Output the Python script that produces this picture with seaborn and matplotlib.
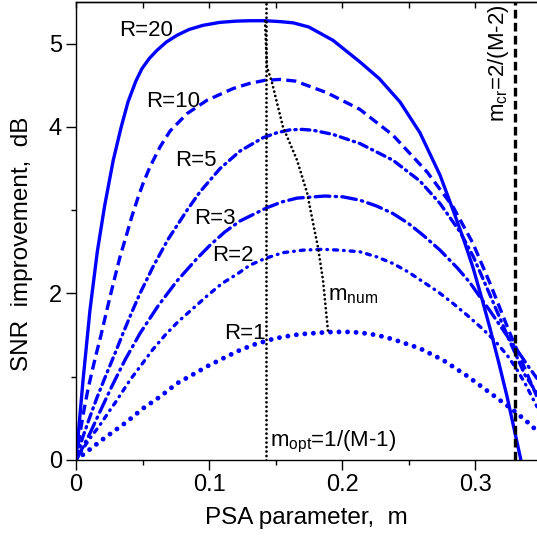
import matplotlib
matplotlib.use("Agg")
import matplotlib.pyplot as plt
import seaborn as sns

# ---------------- data ----------------
m_R20 = [0, .0053, .0105, .016, .0215, .028, .034, .0391, .045, .0496, .055, .0609, .068, .0759,
         .085, .0955, .108, .12, .131, .142, .153, .1632, .175, .1932, .2135, .228, .2436,
         .2586, .2737, .2835, .291, .2985, .3053, .3113, .318, .3241, .3345]
snr_R20 = [0, .96, 1.80, 2.50, 3.05, 3.60, 4.00, 4.30, 4.55, 4.70, 4.82, 4.92, 5.02, 5.10,
           5.17, 5.22, 5.255, 5.27, 5.275, 5.275, 5.265, 5.25, 5.20, 5.04, 4.78, 4.58, 4.30,
           3.93, 3.42, 3.00, 2.67, 2.31, 1.93, 1.58, 1.16, 0.76, 0.0]

m_R10 = [0, .003, .006, .009, .012, .015, .0188, .0226, .0256, .0293, .0331, .0383, .0421,
         .0466, .0504, .0556, .0632, .0707, .0835, .0985, .118, .13, .1421, .1534, .165,
         .1887, .2135, .2383, .2639, .2835, .2985, .3113, .3263, .3414, .3466]
snr_R10 = [0, .32, .60, .85, 1.06, 1.26, 1.50, 1.76, 1.96, 2.20, 2.44, 2.72, 2.93,
           3.15, 3.32, 3.52, 3.76, 3.95, 4.16, 4.32, 4.46, 4.52, 4.56, 4.57, 4.55,
           4.41, 4.21, 3.90, 3.46, 3.04, 2.60, 2.12, 1.52, 0.95, 0.76]

m_R5 = [0, .005, .0105, .0158, .0218, .0293, .0353, .0421, .0481, .0579, .0692, .0835, .0932,
        .1083, .1233, .1406, .1511, .1609, .17, .1782, .1932, .2135, .2383, .2586, .2737,
        .2887, .2985, .3113, .3263, .3376, .3466]
snr_R5 = [0, .27, .52, .75, .99, 1.28, 1.52, 1.78, 2.00, 2.32, 2.65, 3.00, 3.22,
          3.50, 3.71, 3.87, 3.93, 3.965, 3.97, 3.96, 3.91, 3.80, 3.60, 3.35, 3.08,
          2.74, 2.45, 1.98, 1.42, 1.02, 0.80]

m_R3 = [0, .005, .0105, .018, .0271, .0368, .0481, .0617, .0759, .091, .1008, .112, .1233,
        .1436, .155, .1662, .1872, .2008, .2135, .226, .2383, .25, .2609, .2737, .2865,
        .2962, .3023, .3113, .3203, .3263, .3338, .3398, .3466]
snr_R3 = [0, .15, .32, .58, .89, 1.20, 1.52, 1.85, 2.15, 2.42, 2.58, 2.74, 2.87,
          3.03, 3.10, 3.145, 3.17, 3.16, 3.12, 3.05, 2.96, 2.84, 2.70, 2.52, 2.31,
          2.13, 1.99, 1.79, 1.58, 1.44, 1.27, 1.13, 0.98]

m_R2 = [0, .005, .0105, .018, .0256, .03, .0406, .05, .0579, .067, .0767, .088, .0992, .1098,
        .1218, .1308, .1421, .1556, .1707, .185, .1985, .2135, .226, .2383, .2496, .2609,
        .2722, .2835, .294, .3053, .315, .3241, .331, .3376, .3466]
snr_R2 = [0, .13, .26, .42, .60, .70, .96, 1.16, 1.33, 1.50, 1.66, 1.82, 1.98, 2.12,
          2.24, 2.34, 2.42, 2.49, 2.52, 2.53, 2.52, 2.50, 2.44, 2.36, 2.26, 2.14,
          2.02, 1.88, 1.74, 1.58, 1.43, 1.26, 1.10, .92, .64]

m_R1 = [0, .009, .0203, .0383, .0504, .0632, .0759, .0872, .0992, .1105, .1233, .1346, .1496,
        .16, .168, .1887, .2023, .2135, .2263, .2383, .2586, .2759, .294, .3135, .3286,
        .3391, .3466]
snr_R1 = [0, .11, .25, .46, .62, .76, .92, 1.02, 1.13, 1.22, 1.32, 1.39, 1.46,
          1.49, 1.51, 1.535, 1.54, 1.53, 1.50, 1.45, 1.34, 1.20, 1.01, .78, .60,
          .46, .35]

m_num_x = [.1421, .1436, .1474, .1556, .1662, .1737, .1782, .182, .1857, .1895]
m_num_y = [5.27, 4.72, 4.53, 4.00, 3.60, 3.21, 2.85, 2.55, 2.16, 1.54]

M = 8
m_opt = 1 / (M - 1)
m_cr = 0.330

labels = ["R=20", "R=10", "R=5", "R=3", "R=2", "R=1"]
label_pos = [(0.0526, 5.16), (0.073, 4.30), (0.090, 3.60), (0.1045, 2.90), (0.118, 2.46), (0.127, 1.52)]

# ---------------- style ----------------
sns.set_theme(style="ticks")
plt.rcParams['font.family'] = ['Liberation Sans', 'DejaVu Sans']
plt.rcParams['mathtext.fontset'] = 'custom'
plt.rcParams['mathtext.rm'] = 'Liberation Sans'
plt.rcParams['mathtext.it'] = 'Liberation Sans'
plt.rcParams['text.color'] = 'black'
plt.rcParams['axes.labelcolor'] = 'black'
plt.rcParams['xtick.color'] = 'black'
plt.rcParams['ytick.color'] = 'black'

BLUE = '#0000ff'
fig = plt.figure(figsize=(5.37, 5.39), dpi=100)
ax = fig.add_axes([76 / 537, 79 / 539, 461 / 537, 458 / 539])

series = [
    (m_R20, snr_R20, '-', 2.4, 'butt'),
    (m_R10, snr_R10, (0, (3.0, 1.6)), 2.4, 'butt'),
    (m_R5, snr_R5, (0, (2.6, 1.5, 0.4, 1.5)), 2.4, 'round'),
    (m_R3, snr_R3, (0, (4.4, 1.6, 0.4, 1.6)), 2.4, 'round'),
    (m_R2, snr_R2, (0, (1.2, 1.8, 0.2, 1.8)), 2.4, 'round'),
    (m_R1, snr_R1, (0, (0.01, 1.75)), 3.5, 'round'),
]
for xs, ys, ls, lw, cap in series:
    sns.lineplot(x=xs, y=ys, ax=ax, color=BLUE, linestyle=ls, linewidth=lw,
                 dash_capstyle=cap, solid_capstyle='butt', estimator=None, sort=False)

sns.lineplot(x=m_num_x, y=m_num_y, ax=ax, color='black', linestyle=(0, (0.01, 1.6)),
             linewidth=2.0, dash_capstyle='round', estimator=None, sort=False)
ax.axvline(m_opt, color='black', linestyle=(0, (0.01, 1.6)), linewidth=2.0, dash_capstyle='round')
ax.axvline(m_cr, color='black', linestyle=(0, (2.6, 1.3)), linewidth=2.4)

for lab, (x, y) in zip(labels, label_pos):
    ax.text(x, y, lab, fontsize=16, ha='center', va='center')

ax.text(0.1895, 1.98, r'm$_{\rm num}$', fontsize=16, ha='left', va='center')
ax.text(0.146, 0.22, r'm$_{\rm opt}$=1/(M-1)', fontsize=16, ha='left', va='center')
ax.text(0.318, 4.06, r'm$_{\rm cr}$=2/(M-2)', fontsize=16, rotation=90, ha='center', va='bottom')

ax.set_xlim(0, 0.3466)
ax.set_ylim(0, 5.5)

ax.set_xticks([0, 0.1, 0.2, 0.3])
ax.set_xticklabels(["0", "0.1", "0.2", "0.3"])
ax.set_xticks([0.05, 0.15, 0.25], minor=True)
ax.set_yticks([0, 2, 4, 5])
ax.set_yticklabels(["0", "2", "4", "5"])
ax.set_yticks([1, 3], minor=True)
ax.tick_params(axis='both', which='major', direction='out', length=7, width=1,
               labelsize=17, pad=3)
ax.tick_params(axis='both', which='minor', direction='out', length=3.5, width=1)

top = ax.secondary_xaxis('top')
top.set_xticks([0, 0.05, 0.1, 0.15, 0.2, 0.25, 0.3])
top.tick_params(direction='in', length=4, width=1, labeltop=False)
top.spines['top'].set_linewidth(1)

for s in ['left', 'bottom', 'top']:
    ax.spines[s].set_visible(True)
    ax.spines[s].set_color('black')
    ax.spines[s].set_linewidth(1)
ax.spines['right'].set_visible(False)

ax.set_xlabel("PSA parameter,  m", fontsize=17.5, labelpad=8)
ax.set_ylabel("SNR  improvement,  dB", fontsize=17.5)
ax.yaxis.set_label_coords(-0.093, 0.472)

fig.savefig("out.png", dpi=100)
